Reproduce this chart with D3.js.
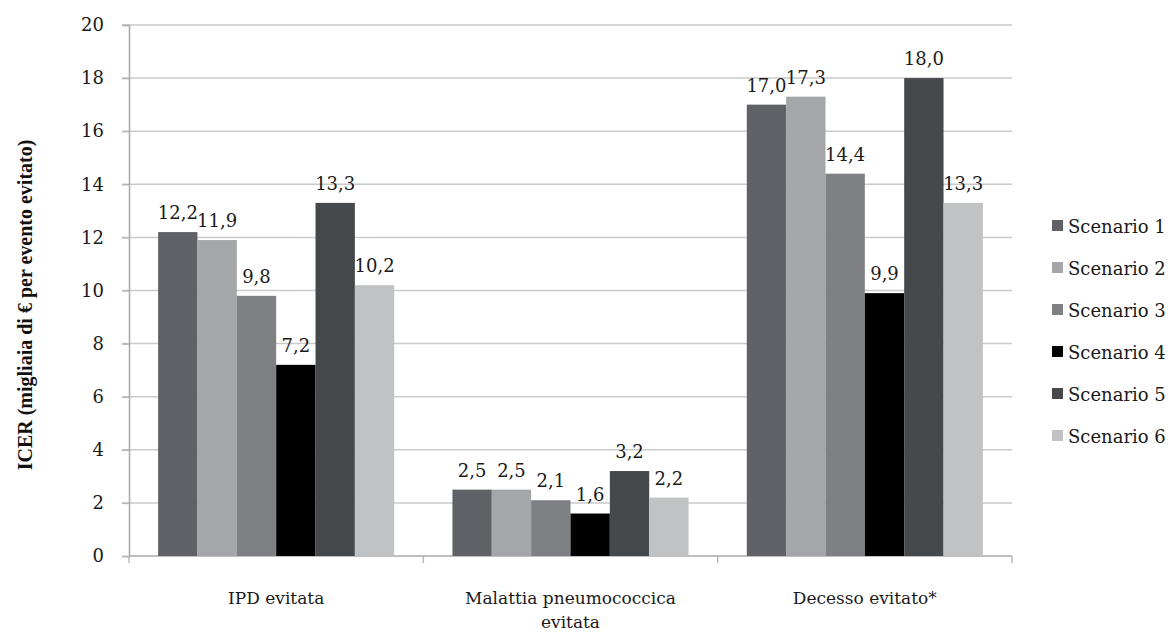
<!DOCTYPE html>
<html>
<head>
<meta charset="utf-8">
<script src="https://cdn.jsdelivr.net/npm/d3@7"></script>
<style>
  html, body { margin: 0; padding: 0; background: #fff; }
  svg { display: block; }
</style>
</head>
<body>
<svg id="chart" width="1173" height="632"></svg>
<script>
// Outcome categories (x groups), with line breaks for the axis labels
const categories = ["IPD evitata", "Malattia pneumococcica evitata", "Decesso evitato*"];
const categoryLines = [["IPD evitata"], ["Malattia pneumococcica", "evitata"], ["Decesso evitato*"]];
const scenarios = ["Scenario 1", "Scenario 2", "Scenario 3", "Scenario 4", "Scenario 5", "Scenario 6"];

// ICER values (thousands of € per avoided event), one array per scenario, in category order
const scenario1 = [12.2, 2.5, 17.0];
const scenario2 = [11.9, 2.5, 17.3];
const scenario3 = [9.8, 2.1, 14.4];
const scenario4 = [7.2, 1.6, 9.9];
const scenario5 = [13.3, 3.2, 18.0];
const scenario6 = [10.2, 2.2, 13.3];
const seriesValues = [scenario1, scenario2, scenario3, scenario4, scenario5, scenario6];

const yTicks = [0, 2, 4, 6, 8, 10, 12, 14, 16, 18, 20];
const colors = ["#5f6166", "#a4a6a9", "#7f8084", "#000000", "#46494c", "#c1c2c4"];

const serif = "'DejaVu Serif', serif";
const textColor = "#1a1a1a";
const svg = d3.select("#chart");

const plot = { left: 129, right: 1012, top: 25, bottom: 556 };

const y = d3.scaleLinear().domain([0, 20]).range([plot.bottom, plot.top]);
const x0 = d3.scaleBand().domain(categories).range([plot.left, plot.right]).paddingInner(0).paddingOuter(0);
const x1 = d3.scaleBand().domain(scenarios).range([0, x0.bandwidth()]).paddingInner(0).paddingOuter(0.74);

// Horizontal gridlines
svg.append("g")
  .selectAll("line")
  .data(yTicks.filter(d => d > 0))
  .join("line")
  .attr("x1", plot.left - 7)
  .attr("x2", plot.right)
  .attr("y1", d => y(d))
  .attr("y2", d => y(d))
  .attr("stroke", "#cacaca")
  .attr("stroke-width", 1.5);

// Y axis
const yAxis = svg.append("g")
  .attr("transform", `translate(${plot.left},0)`)
  .call(d3.axisLeft(y).tickValues(yTicks).tickSize(7).tickPadding(18).tickFormat(d3.format("d")));
yAxis.select(".domain").attr("stroke", "#a8a8a8").attr("stroke-width", 1.5);
yAxis.selectAll(".tick line").attr("stroke", "#b8b8b8").attr("stroke-width", 1.5);
yAxis.selectAll(".tick text")
  .attr("font-family", serif)
  .attr("font-size", 18)
  .attr("fill", textColor);

// X axis baseline with ticks at group boundaries
const xAxis = svg.append("g")
  .attr("transform", `translate(0,${plot.bottom})`);
xAxis.append("line")
  .attr("x1", plot.left).attr("x2", plot.right)
  .attr("stroke", "#a8a8a8").attr("stroke-width", 1.5);
const boundaries = categories.map(c => x0(c)).concat([x0(categories[categories.length - 1]) + x0.bandwidth()]);
xAxis.selectAll("line.bt")
  .data(boundaries)
  .join("line")
  .attr("class", "bt")
  .attr("x1", d => d).attr("x2", d => d)
  .attr("y1", 0).attr("y2", 7)
  .attr("stroke", "#b8b8b8").attr("stroke-width", 1.5);

// Category labels
categories.forEach((c, i) => {
  const t = svg.append("text")
    .attr("x", x0(c) + x0.bandwidth() / 2)
    .attr("y", 604)
    .attr("text-anchor", "middle")
    .attr("font-family", serif)
    .attr("font-size", 17)
    .attr("fill", textColor);
  categoryLines[i].forEach((line, j) => {
    t.append("tspan")
      .attr("x", x0(c) + x0.bandwidth() / 2)
      .attr("dy", j === 0 ? 0 : 24)
      .text(line);
  });
});

// Bars and value labels
const fmt = v => d3.format(".1f")(v).replace(".", ",");
const groups = svg.append("g")
  .selectAll("g")
  .data(categories)
  .join("g")
  .attr("transform", c => `translate(${x0(c)},0)`);

groups.each(function(c, ci) {
  const g = d3.select(this);
  const data = scenarios.map((s, si) => ({ s, si, v: seriesValues[si][ci] }));
  g.selectAll("rect")
    .data(data)
    .join("rect")
    .attr("x", d => x1(d.s))
    .attr("y", d => y(d.v))
    .attr("width", x1.bandwidth())
    .attr("height", d => y(0) - y(d.v))
    .attr("fill", d => colors[d.si]);
  g.selectAll("text")
    .data(data)
    .join("text")
    .attr("x", d => x1(d.s) + x1.bandwidth() / 2)
    .attr("y", d => y(d.v) - 13)
    .attr("text-anchor", "middle")
    .attr("font-family", serif)
    .attr("font-size", 18)
    .attr("fill", textColor)
    .text(d => fmt(d.v));
});

// Y axis title
svg.append("text")
  .attr("transform", "translate(25,305) rotate(-90)")
  .attr("text-anchor", "middle")
  .attr("dominant-baseline", "central")
  .attr("font-family", "'Liberation Serif', serif")
  .attr("font-weight", "bold")
  .attr("font-size", 20)
  .attr("fill", "#111")
  .text("ICER (migliaia di € per evento evitato)");

// Legend
const legend = svg.append("g")
  .selectAll("g")
  .data(scenarios)
  .join("g")
  .attr("transform", (d, i) => `translate(1052,${226 + i * 42})`);
legend.append("rect")
  .attr("x", 0).attr("y", -6)
  .attr("width", 11).attr("height", 11)
  .attr("fill", (d, i) => colors[i]);
legend.append("text")
  .attr("x", 16)
  .attr("y", 0)
  .attr("dominant-baseline", "central")
  .attr("font-family", serif)
  .attr("font-size", 18)
  .attr("fill", textColor)
  .text(d => d);
</script>
</body>
</html>
